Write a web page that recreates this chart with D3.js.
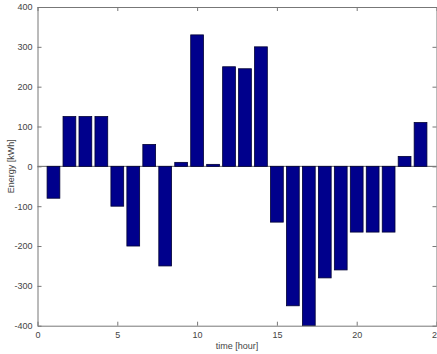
<!DOCTYPE html>
<html>
<head>
    <meta charset="utf-8">
    <title>Energy per hour</title>
    <style>
        body { margin: 0; background: #fff; }
        text { font-family: "Liberation Sans", Arial, sans-serif; }
    </style>
</head>
<body>
    <script src="https://d3js.org/d3.v7.min.js"></script>
    <script>
        // hourly energy values
        const hours = d3.range(1, 25);
        const energy = [-80, 125, 125, 125, -100, -200, 55, -250, 10, 330, 5, 250,
                        245, 300, -140, -350, -400, -280, -260, -165, -165, -165, 25, 110];
        const xTicks = [0, 5, 10, 15, 20, 25];
        const yTicks = [-400, -300, -200, -100, 0, 100, 200, 300, 400];

        const width = 437;
        const height = 354;
        const plotLeft = 37.5, plotRight = 436.5, plotTop = 7, plotBottom = 325.7;

        const svg = d3.select('body')
            .append('svg')
            .attr('width', width)
            .attr('height', height);

        const x = d3.scaleLinear().domain([0, 25]).range([plotLeft, plotRight]);
        const y = d3.scaleLinear().domain([-400, 400]).range([plotBottom, plotTop]);

        // zero baseline
        svg.append('line')
            .attr('x1', plotLeft).attr('x2', plotRight)
            .attr('y1', y(0)).attr('y2', y(0))
            .attr('stroke', '#666')
            .attr('stroke-width', 1);

        // bars (width 0.8 like matlab's default)
        svg.selectAll('rect.bar')
            .data(hours)
            .enter()
            .append('rect')
            .attr('class', 'bar')
            .attr('x', d => x(d - 0.4))
            .attr('width', x(0.8) - x(0))
            .attr('y', (d, i) => y(Math.max(0, energy[i])))
            .attr('height', (d, i) => Math.abs(y(energy[i]) - y(0)))
            .attr('fill', '#00008c')
            .attr('stroke', '#000033')
            .attr('stroke-width', 0.8);

        // axes, ticks pointing inward, mirrored on top and right
        const tick = 4;
        const axisColor = '#777';
        const fmt = d => String(d);

        const bottomAxis = svg.append('g')
            .attr('transform', `translate(0,${plotBottom})`)
            .call(d3.axisBottom(x).tickValues(xTicks).tickFormat(fmt).tickSize(-tick).tickPadding(6).tickSizeOuter(0));
        const topAxis = svg.append('g')
            .attr('transform', `translate(0,${plotTop})`)
            .call(d3.axisTop(x).tickValues(xTicks).tickSize(-tick).tickFormat('').tickSizeOuter(0));
        const leftAxis = svg.append('g')
            .attr('transform', `translate(${plotLeft},0)`)
            .call(d3.axisLeft(y).tickValues(yTicks).tickFormat(fmt).tickSize(-tick).tickPadding(5).tickSizeOuter(0));
        const rightAxis = svg.append('g')
            .attr('transform', `translate(${plotRight},0)`)
            .call(d3.axisRight(y).tickValues(yTicks).tickSize(-tick).tickFormat('').tickSizeOuter(0));

        [bottomAxis, topAxis, leftAxis, rightAxis].forEach(g => {
            g.select('.domain').attr('stroke', axisColor);
            g.selectAll('.tick line').attr('stroke', axisColor);
            g.selectAll('.tick text')
                .attr('fill', '#444')
                .style('font-size', '9px')
                .style('font-family', '"Liberation Sans", Arial, sans-serif');
        });

        // axis titles
        svg.append('text')
            .attr('x', (plotLeft + plotRight) / 2)
            .attr('y', 349)
            .attr('text-anchor', 'middle')
            .attr('fill', '#444')
            .style('font-size', '9px')
            .text('time [hour]');

        svg.append('text')
            .attr('transform', `translate(14,${(plotTop + plotBottom) / 2}) rotate(-90)`)
            .attr('text-anchor', 'middle')
            .attr('fill', '#444')
            .style('font-size', '9px')
            .text('Energy [kWh]');
    </script>
</body>
</html>
